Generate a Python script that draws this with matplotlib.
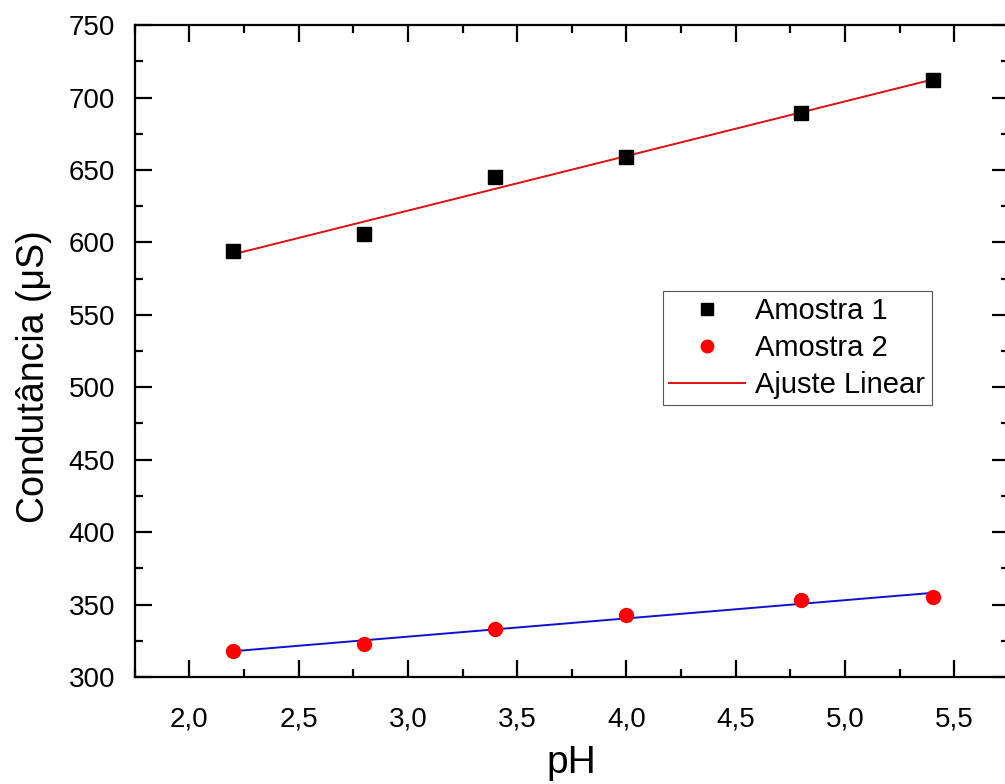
import numpy as np
import matplotlib
matplotlib.use("Agg")
import matplotlib.pyplot as plt
from matplotlib.ticker import MultipleLocator, FuncFormatter

plt.rcParams['font.family'] = ['Liberation Sans', 'DejaVu Sans']

# dados
ph = [2.2, 2.8, 3.4, 4.0, 4.8, 5.4]
amostra1 = [594, 606, 645, 659, 689, 712]
amostra2 = [318, 323, 333, 343, 353, 355]

fig = plt.figure(figsize=(10.05, 7.84), dpi=100)
ax = fig.add_axes([0.134, 0.1365, 0.870, 0.8315])

# ajustes lineares
x = np.array(ph)
p1 = np.polyfit(x, amostra1, 1)
p2 = np.polyfit(x, amostra2, 1)
xf = np.array([ph[0], ph[-1]])

ax.plot(xf, np.polyval(p1, xf), color='#e01010', lw=1.4, zorder=2)
ax.plot(xf, np.polyval(p2, xf), color='#1010d0', lw=1.4, zorder=2)
ax.plot(ph, amostra1, 's', color='black', ms=10, zorder=3)
ax.plot(ph, amostra2, 'o', color='red', ms=10, zorder=3)

# legenda
h1, = ax.plot([], [], 's', color='black', ms=8)
h2, = ax.plot([], [], 'o', color='red', ms=9)
h3, = ax.plot([], [], '-', color='#e01010', lw=1.4)
leg = ax.legend([h1, h2, h3], ['Amostra 1', 'Amostra 2', 'Ajuste Linear'],
                loc='upper left', bbox_to_anchor=(0.604, 0.592),
                fontsize=21, frameon=True, fancybox=False, framealpha=1,
                edgecolor='#555555', handlelength=2.6, handletextpad=0.35,
                borderpad=0.22, labelspacing=0.3, borderaxespad=0)
leg.get_frame().set_linewidth(0.8)

ax.set_xlim(1.75, 5.75)
ax.set_ylim(300, 750)
ax.xaxis.set_major_locator(MultipleLocator(0.5))
ax.xaxis.set_minor_locator(MultipleLocator(0.25))
ax.yaxis.set_major_locator(MultipleLocator(50))
ax.yaxis.set_minor_locator(MultipleLocator(25))
ax.xaxis.set_major_formatter(FuncFormatter(lambda v, p: f'{v:.1f}'.replace('.', ',')))

ax.tick_params(which='both', direction='in', top=True, right=True,
               labeltop=False, labelright=False, width=1.6, labelsize=20)
ax.tick_params(which='major', length=12)
ax.tick_params(which='minor', length=6)
ax.tick_params(axis='x', which='major', pad=21)
ax.tick_params(axis='y', which='major', pad=14)
for s in ax.spines.values():
    s.set_linewidth(1.6)

ax.set_xlabel('pH', fontsize=28)
ax.set_ylabel('Condutância (μS)', fontsize=27)
ax.xaxis.set_label_coords(0.5, -0.105)
ax.yaxis.set_label_coords(-0.094, 0.46)

fig.savefig('out.png', dpi=100)
